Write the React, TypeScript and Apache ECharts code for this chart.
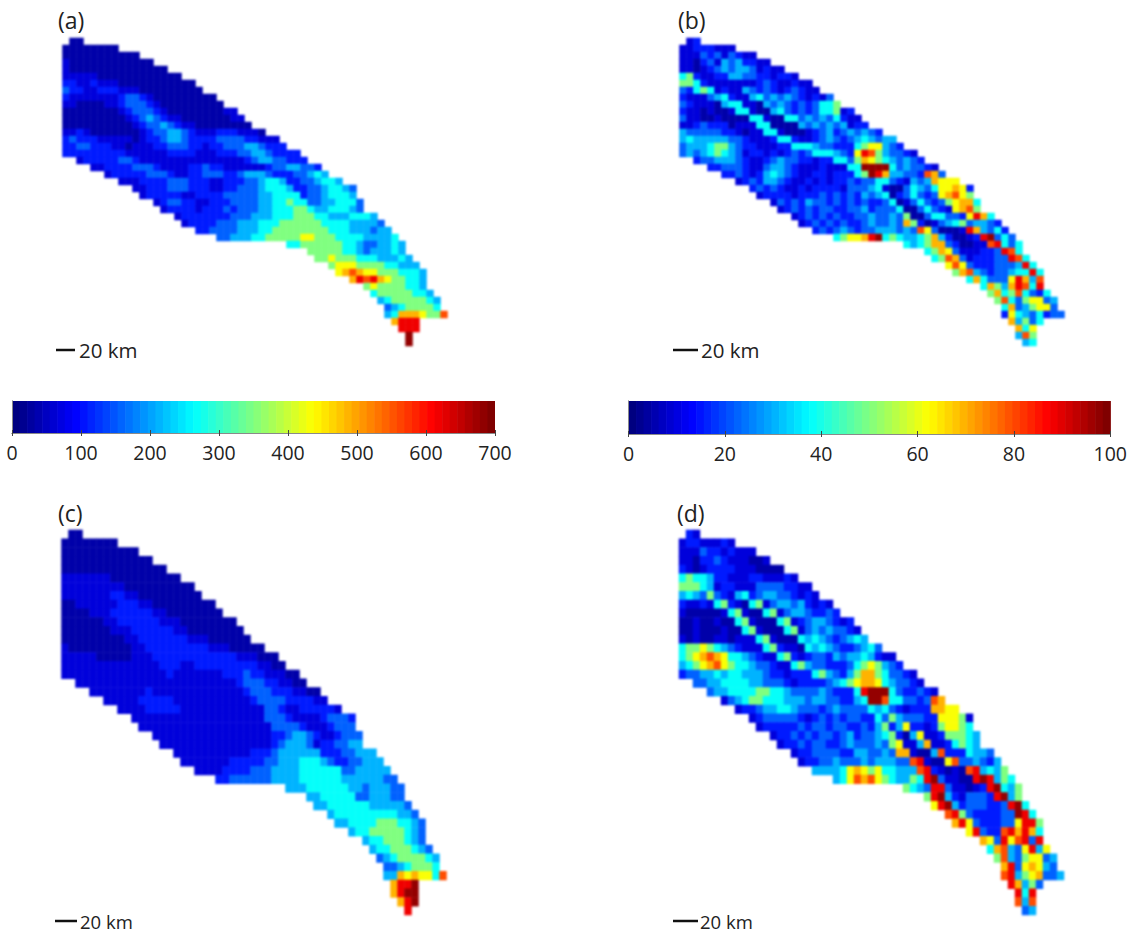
import React, { useEffect, useRef } from "react";
import * as echarts from "echarts";

const levelShares = [0.04, 0.09, 0.15, 0.22, 0.3, 0.38, 0.5, 0.62, 0.7, 0.8, 0.89, 0.98];
const jetColors = ["#000080", "#0000ff", "#0080ff", "#00ffff", "#80ff80", "#ffff00", "#ff8000", "#ff0000", "#800000"];

const maxLeft = 700;
const maxRight = 100;
const ticksLeft = 100;
const ticksRight = 20;

// First and past-the-end column of each row of the mapped area.
const bodyStart = [1, 0, 0, 0, 0, 0, 0, 0, 0, 0, 0, 0, 0, 0, 0, 0, 0, 2, 4, 6, 8, 10, 11, 13, 14, 16, 17, 19, 22, 32, 35, 36, 38, 39, 41, 43, 44, 45, 46, 46];
const bodyEnd = [3, 8, 11, 13, 15, 17, 19, 20, 22, 23, 25, 26, 27, 29, 31, 32, 34, 35, 37, 38, 40, 42, 42, 43, 43, 45, 46, 47, 48, 49, 49, 50, 51, 52, 52, 52, 53, 54, 54, 55];
const tailStartA = [47, 48, 49, 49];
const tailEndA = [51, 51, 50, 50];
const tailStartC = [47, 47, 48, 49];
const tailEndC = [51, 51, 51, 50];
const tailStartB = [47, 48, 48, 49];
const tailEndB = [52, 51, 51, 51];

const rowsA = [
  "00", "00000000", "00000000000", "1000000000000", "100000000000000",
  "11111000000000000", "2211211100000000000", "32211222111000000000", "2111111123321000000000",
  "11000011233321000000000", "0000000012333210000000011", "00000000012343211000000011",
  "000000000012334321100000000", "11210000000123344321112221110", "2322211111012234432222333322111",
  "22332221101112233322122333443222", "2222222221111112222111222334432222",
  "122222332111111111111111234433222", "112222333211112232211111123344332",
  "12222233321122333223444322233454", "11122223332221122233455422334554",
  "11222333222112233345554223345543", "1222221122223333344555523345554",
  "123322112223333445565533445553", "12222122232333445556654455543",
  "12222222333444555666554445554", "12222333444555666666555544443",
  "2233334445566666666555444344", "33444556666677666555544445",
  "55666666554334454", "66666554344454", "66766655544454", "6777666655444",
  "7898776665554", "8a9a8766554", "676666554", "566666554", "456666654", "34566665",
  "458887669", "8aaa", "aaa", "b", "b",
];

const rowsB = [
  "12", "11222111", "11132313211", "1102314342211", "110123434431211",
  "56211224433221221", "6652111111123211211", "32565121143232123211", "2111345211453434321213",
  "32111045511043432323556", "2110100155100453232355612", "31100100005510055343435211",
  "112322201115500004343434122", "43333322101155100012342343432", "4544444332111255211234323454344",
  "34445664322111225554332225677432", "34345654312212123235554327a9643321",
  "233444321123433221225536876543432", "2233321134432111211155bbbb5343321",
  "223212454321122122256ba844332983", "12324432112121223233553214348777",
  "23232112122221333451003543577872", "1222212223232324345023532378976",
  "132324332323232235013532367885", "12323233223342333500353217896",
  "12323232233433436003553327a85", "12323232234334386201345634432",
  "2323432334443439730001a84352", "56778ab56544568420012ab353",
  "5456883200119a535", "56873111223a95", "56983122233a95", "79732223334a5",
  "68943233455a5", "5853337a849", "58648a95a", "685695325", "695367734", "58346773",
  "275435233", "84635", "857", "496", "45",
];

const rowsC = [
  "00", "00000000", "00000000000", "0000000000000", "000000000000000",
  "11111110000000000", "1111111110000000000", "11111112211000000000", "0011111122211000000000",
  "00001112222221100000000", "0000001122222211100000000", "00000001112222221100000000",
  "000000000112222222111000000", "10000000001122222222211100000", "1111100000111222222222222111000",
  "11111111111111222112222222221100", "1111111111111112111111122232211100",
  "111111111111111111111112333221100", "111111112111111111111123332221100",
  "11111222221111111111123333222211", "11112222211111111111133211222221",
  "11111111111111111113332111123332", "1111111111111111111333321112333",
  "111111111111111112234432112333", "11111111111111112344431223344",
  "11111111111222344444422233444", "11111112222233444555432233444",
  "1111222233344445555553344444", "22333333444455555544444433",
  "44455555544344433", "44555553344433", "44555555444443", "4555555555443",
  "4455556665543", "45566666543", "455666543", "455666543", "345666654", "33456665",
  "448787759", "8aab", "8abb", "8ab", "a",
];

const rowsD = [
  "21", "12211121", "11132212111", "1102232111001", "210122221110000",
  "56554221112211121", "6665412211133332211", "45436321452344332121", "2112156210561344342121",
  "10000015610056134432232", "0010010056100056123443212", "00100010056100056134343321",
  "101001101115610005454323454", "56676543211156211054543223453", "5678987554321156212332434454211",
  "45678976554332115643322235676432", "2334454554443221222564324688653321",
  "334455554433321222234567887543321", "3445555665543333432225abbb5322321",
  "134566555444344332245bb955332398", "12234455433323433335453212228877",
  "12333332123232332253643332277761", "1222223233233223246247221267765",
  "122323233234233456204711266654", "12232332234333436711481125654",
  "12233332244334388100492225443", "12233433343444339a10079334324",
  "4444578767554449a210109a4546", "4579897654465ab31100aba465",
  "6543aa311012ab546", "6ab4213332ab46", "7ab42333223ab5", "9a63222233ba5",
  "8a73222337aa6", "7a3229a8a85", "873a79a3a", "589437a47", "694367734", "8a378743",
  "9a4678334", "a8463", "a5a", "949", "34",
];

const panelLabels = ["(a)", "(b)", "(c)", "(d)"];
const scaleText = "20 km";
const COLS = 55;
const ROWS = 44;

function cells(rows: string[], starts: number[], ends: number[], vmax: number) {
  const out: number[][] = [];
  rows.forEach((text, r) => {
    for (let col = starts[r]; col < ends[r]; col++) {
      const ch = text[Math.min(col - starts[r], text.length - 1)];
      out.push([col, r, levelShares[parseInt(ch, 12)] * vmax]);
    }
  });
  return out;
}

function jetAt(t: number) {
  const p = t * (jetColors.length - 1);
  const i = Math.min(Math.floor(p), jetColors.length - 2);
  const f = p - i;
  const h = (c: string) => [1, 3, 5].map((k) => parseInt(c.slice(k, k + 2), 16));
  const a = h(jetColors[i]);
  const b = h(jetColors[i + 1]);
  return `rgb(${a.map((v, k) => Math.round(v + (b[k] - v) * f)).join(",")})`;
}

const font = '"Open Sans", sans-serif';

export default function App() {
  const mapRef = useRef<HTMLDivElement>(null);
  const topRef = useRef<HTMLDivElement>(null);
  useEffect(() => {
    const mapChart = echarts.init(mapRef.current!, null, { renderer: "svg" });
    const topChart = echarts.init(topRef.current!, null, { renderer: "svg" });
    const colIdx = Array.from({ length: COLS }, (_, i) => String(i));
    const rowIdx = Array.from({ length: ROWS }, (_, i) => String(i));

    const heatGrids = [
      { left: 62.5, top: 38, width: 385, height: 308 },
      { left: 679.5, top: 38, width: 385, height: 308 },
      { left: 61.5, top: 530, width: 385, height: 385 },
      { left: 679, top: 530, width: 385, height: 385 },
    ];
    const barGrids = [
      { left: 12, top: 401, width: 483, height: 32 },
      { left: 628.5, top: 401, width: 482, height: 33 },
    ];

    const hiddenCat = (data: string[], gridIndex: number, inverse = false) => ({
      type: "category", data, gridIndex, inverse, show: false,
    });
    const heatData = [
      cells(rowsA, [...bodyStart, ...tailStartA], [...bodyEnd, ...tailEndA], maxLeft),
      cells(rowsB, [...bodyStart, ...tailStartB], [...bodyEnd, ...tailEndB], maxRight),
      cells(rowsC, [...bodyStart, ...tailStartC], [...bodyEnd, ...tailEndC], maxLeft),
      cells(rowsD, [...bodyStart, ...tailStartB], [...bodyEnd, ...tailEndB], maxRight),
    ];
    mapChart.setOption({
      animation: false,
      grid: heatGrids,
      xAxis: heatGrids.map((_, i) => hiddenCat(colIdx, i)),
      yAxis: heatGrids.map((_, i) => hiddenCat(rowIdx, i, true)),
      visualMap: [
        { show: false, seriesIndex: [0, 2], min: 0, max: maxLeft, inRange: { color: jetColors } },
        { show: false, seriesIndex: [1, 3], min: 0, max: maxRight, inRange: { color: jetColors } },
      ],
      series: heatData.map((data, i) => ({
        type: "heatmap", xAxisIndex: i, yAxisIndex: i, data, progressive: 0, emphasis: { disabled: true },
      })),
    });

    const line = { lineStyle: { color: "#8a8a8a", width: 1 } };
    const limits = [[maxLeft, ticksLeft], [maxRight, ticksRight]];
    const xAxis: any[] = [];
    const yAxis: any[] = [];
    limits.forEach(([mx, step], i) => {
      xAxis.push({
        type: "value", gridIndex: i, min: 0, max: mx, interval: step, z: 6, position: "bottom",
        splitLine: { show: false },
        axisLine: { show: true, ...line },
        axisTick: { show: true, inside: true, length: 3, lineStyle: { color: "#444" } },
        axisLabel: { show: true, color: "#222", fontFamily: font, fontSize: 19.5, margin: 9 },
      });
    });
    limits.forEach(([mx, step], i) => {
      xAxis.push({
        type: "value", gridIndex: i, min: 0, max: mx, interval: step, z: 6, position: "top",
        splitLine: { show: false },
        axisLine: { show: true, ...line },
        axisTick: { show: true, inside: true, length: 3, lineStyle: { color: "#444" } },
        axisLabel: { show: false },
      });
    });
    ["left", "right"].forEach((position) => {
      [0, 1].forEach((i) => {
        yAxis.push({ type: "value", gridIndex: i, min: 0, max: 1, z: 6, position, splitLine: { show: false }, axisLine: { show: true, ...line }, axisTick: { show: false }, axisLabel: { show: false } });
      });
    });

    const STEPS = 64;
    const barSeries = [maxLeft, maxRight].map((mx, i) => ({
      type: "custom", xAxisIndex: i, yAxisIndex: i, silent: true, clip: true,
      data: Array.from({ length: STEPS }, (_, k) => [(k * mx) / STEPS, ((k + 1) * mx) / STEPS, k]),
      renderItem: (_: any, api: any) => {
        const a = api.coord([api.value(0), 1]);
        const b = api.coord([api.value(1), 0]);
        return {
          type: "rect",
          shape: { x: a[0], y: a[1], width: b[0] - a[0] + 0.6, height: b[1] - a[1] },
          style: { fill: jetAt(api.value(2) / (STEPS - 1)), stroke: null },
        };
      },
    }));

    const labelPos = [[58, 20], [678, 20], [58, 513], [677, 513]];
    const texts = panelLabels.map((t, i) => ({
      type: "text", x: labelPos[i][0], y: labelPos[i][1],
      style: { text: t, fontFamily: font, fontSize: 23, fill: "#222", verticalAlign: "middle", align: "left" },
    }));
    const scalePos = [
      [56, 75, 79, 350, 20.5], [673, 698, 701, 350, 20.5],
      [55, 77, 80, 921, 18.5], [673, 698, 700, 921, 18.5],
    ];
    const scales = scalePos.flatMap(([x1, x2, tx, y, fs]) => [
      { type: "line", shape: { x1, y1: y, x2, y2: y }, style: { stroke: "#111", lineWidth: 2.5 } },
      { type: "text", x: tx, y, style: { text: scaleText, fontFamily: font, fontSize: fs, fill: "#222", verticalAlign: "middle", align: "left" } },
    ]);

    topChart.setOption({
      animation: false,
      grid: barGrids,
      xAxis,
      yAxis,
      series: barSeries,
      graphic: [...texts, ...scales],
    });
    return () => {
      mapChart.dispose();
      topChart.dispose();
    };
  }, []);
  const box: React.CSSProperties = { position: "absolute", left: 0, top: 0, width: 1130, height: 935 };
  return (
    <div style={{ ...box, background: "#fff" }}>
      <div ref={mapRef} style={{ ...box, filter: "blur(1px)" }} />
      <div ref={topRef} style={box} />
    </div>
  );
}
